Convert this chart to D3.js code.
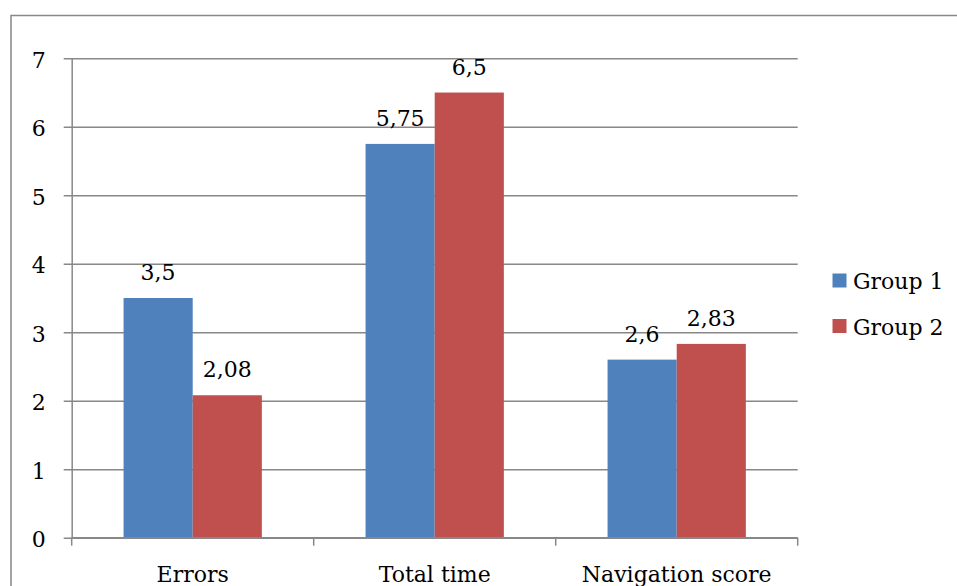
<!DOCTYPE html>
<html>
<head>
<meta charset="utf-8">
<script src="https://cdn.jsdelivr.net/npm/d3@7"></script>
<style>
  html, body { margin: 0; padding: 0; background: #fff; }
  svg { display: block; font-family: "DejaVu Serif", serif; }
</style>
</head>
<body>
<svg id="chart" width="957" height="586"></svg>
<script>
// Chart data
const categories = ["Errors", "Total time", "Navigation score"];
const seriesNames = ["Group 1", "Group 2"];
const group1 = [3.5, 5.75, 2.6];
const group2 = [2.08, 6.5, 2.83];
const yTicks = [0, 1, 2, 3, 4, 5, 6, 7];
const colors = ["#4F81BD", "#C0504D"];

const series = [group1, group2];
const fmt = d3.formatLocale({ decimal: ",", thousands: " ", grouping: [3], currency: ["", ""] }).format("~r");

const svg = d3.select("#chart");
const fontSize = 22;
const gridColor = "#888888";

// Plot area
const plotLeft = 71.7, plotRight = 797.7, plotTop = 58.3, plotBottom = 537.7;

const x = d3.scaleBand().domain(categories).range([plotLeft, plotRight]).padding(0);
const y = d3.scaleLinear().domain([0, 7]).range([plotBottom, plotTop]);

// Outer chart frame (runs past the right and bottom edges)
svg.append("rect")
  .attr("x", 11).attr("y", 15.5)
  .attr("width", 1000).attr("height", 700)
  .attr("fill", "none").attr("stroke", gridColor).attr("stroke-width", 1.5);

// Horizontal gridlines, starting at the left tick marks
const grid = svg.append("g").attr("transform", `translate(${plotLeft - 8},0)`)
  .call(d3.axisRight(y).tickValues(yTicks).tickSize(plotRight - plotLeft + 8).tickFormat(""));
grid.select(".domain").remove();
grid.selectAll(".tick line").attr("stroke", gridColor).attr("stroke-width", 1.5);

// Bars: Excel-style gap width of 150%
const barW = x.bandwidth() / 3.5;
const groups = svg.append("g").selectAll("g")
  .data(categories)
  .join("g")
  .attr("transform", d => `translate(${x(d) + x.bandwidth() / 2 - barW},0)`);

series.forEach((vals, si) => {
  groups.append("rect")
    .attr("x", si * barW)
    .attr("y", (d, i) => y(vals[i]))
    .attr("width", barW)
    .attr("height", (d, i) => y(0) - y(vals[i]))
    .attr("fill", colors[si]);

  groups.append("text")
    .attr("x", si * barW + barW / 2)
    .attr("y", (d, i) => y(vals[i]) - 18)
    .attr("text-anchor", "middle")
    .attr("font-size", fontSize)
    .attr("fill", "#000")
    .text((d, i) => fmt(vals[i]));
});

// Y axis
const yAxis = svg.append("g").attr("transform", `translate(${plotLeft},0)`)
  .call(d3.axisLeft(y).tickValues(yTicks).tickSize(0).tickPadding(26).tickFormat(d3.format("d")));
yAxis.select(".domain").attr("stroke", gridColor).attr("stroke-width", 1.5);
yAxis.selectAll("text")
  .attr("font-family", "DejaVu Serif, serif")
  .attr("font-size", fontSize)
  .attr("fill", "#000")
  .attr("dy", "0.4em");

// X axis with tick marks at category boundaries
const xAxisG = svg.append("g").attr("transform", `translate(0,${plotBottom})`);
xAxisG.append("line")
  .attr("x1", plotLeft).attr("x2", plotRight)
  .attr("stroke", gridColor).attr("stroke-width", 1.5);
const bounds = [plotLeft, ...categories.map(c => x(c) + x.bandwidth())];
xAxisG.selectAll("line.tk")
  .data(bounds)
  .join("line")
  .attr("class", "tk")
  .attr("x1", d => d).attr("x2", d => d)
  .attr("y1", 0).attr("y2", 8)
  .attr("stroke", gridColor).attr("stroke-width", 1.5);
xAxisG.selectAll("text")
  .data(categories)
  .join("text")
  .attr("x", d => x(d) + x.bandwidth() / 2)
  .attr("y", 44)
  .attr("text-anchor", "middle")
  .attr("font-size", fontSize)
  .attr("fill", "#000")
  .text(d => d);

// Legend
const legend = svg.append("g").attr("transform", "translate(832.5,273.5)");
const items = legend.selectAll("g")
  .data(seriesNames)
  .join("g")
  .attr("transform", (d, i) => `translate(0,${i * 45.5})`);
items.append("rect")
  .attr("width", 14).attr("height", 14)
  .attr("fill", (d, i) => colors[i]);
items.append("text")
  .attr("x", 20.5).attr("y", 15.5)
  .attr("font-size", fontSize)
  .attr("fill", "#000")
  .text(d => d);
</script>
</body>
</html>
